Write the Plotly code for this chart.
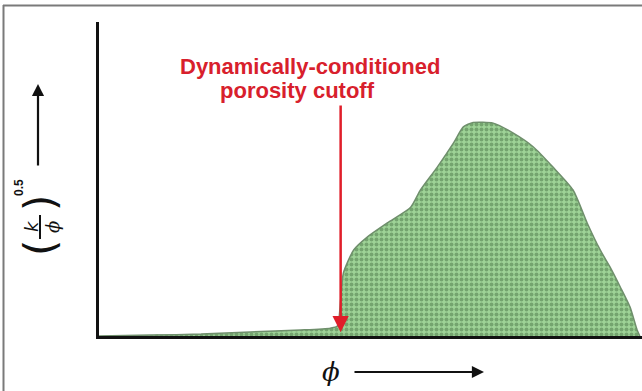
import plotly.graph_objects as go

# Curve of (k/phi)^0.5 versus porosity (normalised units)
phi = [0.0, 0.096, 0.188, 0.279, 0.371, 0.426, 0.439, 0.445, 0.450, 0.469, 0.494,
       0.531, 0.574, 0.592, 0.623, 0.653, 0.671, 0.689, 0.726, 0.763, 0.800,
       0.836, 0.873, 0.899, 0.923, 0.941, 0.960, 0.978, 0.991, 0.996]
kphi = [0.0, 0.003, 0.006, 0.013, 0.019, 0.025, 0.032, 0.115, 0.200, 0.274, 0.315,
        0.360, 0.410, 0.465, 0.538, 0.615, 0.666, 0.680, 0.678, 0.646, 0.602,
        0.538, 0.465, 0.360, 0.274, 0.220, 0.156, 0.092, 0.019, 0.0]
cutoff_phi = 0.445
cutoff_label = ["Dynamically-conditioned", "porosity cutoff"]

W, H = 642, 391
L, R, T, B = 99, 0, 22, 55
PW, PH = W - L - R, H - T - B

def px(x):
    return (x - L) / PW

def py(y):
    return (H - B - y) / PH

fig = go.Figure()
fig.add_trace(go.Scatter(
    x=phi, y=kphi, mode="lines", fill="tozeroy",
    line=dict(color="#6f8f6c", width=1.5, shape="spline", smoothing=0.6),
    fillcolor="#94cb8b",
    fillpattern=dict(shape=".", fgcolor="#4a7548", bgcolor="#9ed397",
                     size=5, solidity=0.5),
    hoverinfo="skip", showlegend=False,
))

ann = []
red = "#d8202c"
font_lab = "Liberation Sans, Arial, sans-serif"
D = dict(xref="x domain", yref="y domain")
# cutoff label
ann.append(dict(**D, x=px(310), y=py(66), text="<b>%s</b>" % cutoff_label[0],
                showarrow=False, font=dict(family=font_lab, size=22, color=red),
                xanchor="center", yanchor="middle", borderpad=0))
ann.append(dict(**D, x=px(297), y=py(91), text="<b>%s</b>" % cutoff_label[1],
                showarrow=False, font=dict(family=font_lab, size=22, color=red),
                xanchor="center", yanchor="middle", borderpad=0))
# cutoff arrow
ann.append(dict(x=cutoff_phi, y=0.012, xref="x", yref="y", ax=cutoff_phi, ay=py(104),
                axref="x", ayref="y", showarrow=True, arrowhead=2, arrowsize=1.3,
                arrowwidth=2.5, arrowcolor="#e01e2a", text=""))
# x-axis label phi + arrow
ann.append(dict(**D, x=px(331), y=py(372), text="<i>ϕ</i>",
                showarrow=False, font=dict(family="DejaVu Serif", size=26, color="#111"),
                xanchor="center", yanchor="middle"))
ann.append(dict(**D, x=px(484), y=py(372), ax=px(353), ay=py(372),
                axref="x domain", ayref="y domain", showarrow=True, arrowhead=2, arrowsize=1.1,
                arrowwidth=2.2, arrowcolor="#111", text=""))
# y-axis label (k/phi)^0.5, rotated
ann.append(dict(**D, x=px(40), y=py(248), text="(",
                showarrow=False, textangle=-90,
                font=dict(family="DejaVu Sans", size=42, color="#111"),
                xanchor="center", yanchor="middle"))
ann.append(dict(**D, x=px(31), y=py(226), text="<i>k</i>",
                showarrow=False, textangle=-90,
                font=dict(family="DejaVu Sans", size=18, color="#111"),
                xanchor="center", yanchor="middle"))
ann.append(dict(**D, x=px(52), y=py(227), text="<i>ϕ</i>",
                showarrow=False, textangle=-90,
                font=dict(family="DejaVu Serif", size=18, color="#111"),
                xanchor="center", yanchor="middle"))
ann.append(dict(**D, x=px(40), y=py(203), text=")",
                showarrow=False, textangle=-90,
                font=dict(family="DejaVu Sans", size=42, color="#111"),
                xanchor="center", yanchor="middle"))
ann.append(dict(**D, x=px(19), y=py(188), text="<b>0.5</b>",
                showarrow=False, textangle=-90,
                font=dict(family=font_lab, size=12, color="#111"),
                xanchor="center", yanchor="middle"))
ann.append(dict(**D, x=px(38), y=py(84), ax=px(38), ay=py(167),
                axref="x domain", ayref="y domain", showarrow=True, arrowhead=2, arrowsize=1.1,
                arrowwidth=2.2, arrowcolor="#111", text=""))

shapes = [
    # fraction bar
    dict(type="line", xref="paper", yref="paper", x0=px(40), x1=px(40), y0=py(215), y1=py(239),
         line=dict(color="#111", width=2)),
    # outer frame
    dict(type="line", xref="paper", yref="paper", x0=px(3), x1=px(642), y0=py(5.5), y1=py(5.5),
         line=dict(color="#7a7a7a", width=2)),
    dict(type="line", xref="paper", yref="paper", x0=px(3.5), x1=px(3.5), y0=py(5), y1=py(391),
         line=dict(color="#7a7a7a", width=2)),
]

fig.update_layout(
    width=W, height=H, margin=dict(l=L, r=R, t=T, b=B),
    paper_bgcolor="white", plot_bgcolor="white",
    xaxis=dict(range=[0, 1], showgrid=False, zeroline=False, showticklabels=False,
               ticks="", showline=True, linecolor="#111", linewidth=3, fixedrange=True),
    yaxis=dict(range=[0, 1], showgrid=False, zeroline=False, showticklabels=False,
               ticks="", showline=True, linecolor="#111", linewidth=3, fixedrange=True),
    annotations=ann, shapes=shapes, showlegend=False,
)
fig.write_html("out.html")
